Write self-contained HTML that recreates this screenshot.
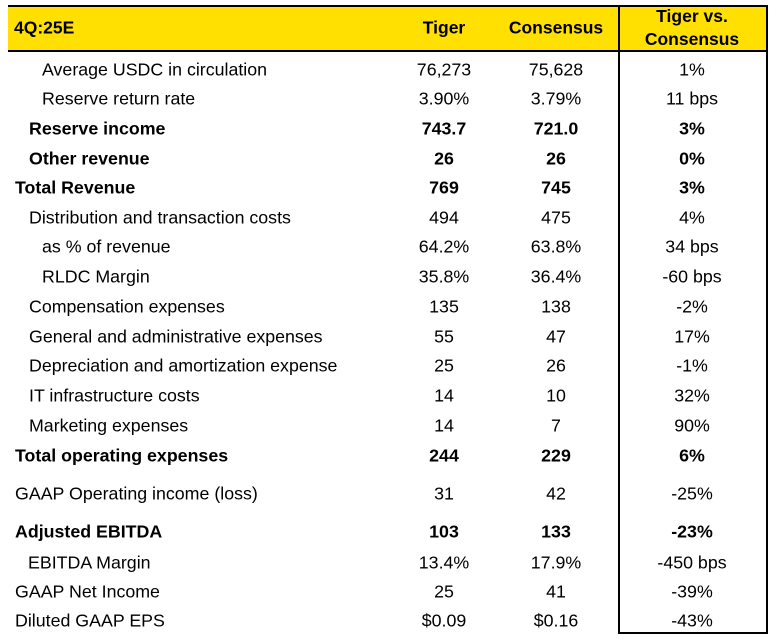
<!DOCTYPE html>
<html><head><meta charset="utf-8"><style>
body{margin:0;width:771px;height:642px;background:#fff;font-family:"Liberation Sans",Arial,sans-serif;color:#000;position:relative;overflow:hidden}
.hdr{position:absolute;left:8px;top:5px;width:759px;height:47px;background:#FFE000;border-top:2px solid #000;border-bottom:2px solid #000;box-sizing:border-box}
.box{position:absolute;left:618px;top:5px;width:150px;height:629px;border:2px solid #000;box-sizing:border-box}
.t{position:absolute;font-size:17.8px;white-space:nowrap;transform:translateY(-50%)}
.h{font-size:17.5px}
.c{transform:translate(-50%,-50%);text-align:center}
.b{font-weight:bold}
</style></head><body>
<div class="hdr"></div>
<div class="box"></div>
<div class="t b h" style="left:14px;top:28px">4Q:25E</div>
<div class="t b c h" style="left:444px;top:28px">Tiger</div>
<div class="t b c h" style="left:556px;top:28px">Consensus</div>
<div class="t b c h" style="left:692px;top:28px;line-height:23px">Tiger vs.<br>Consensus</div>
<div id="rows"></div>
<script>
const labels=["Average USDC in circulation","Reserve return rate","Reserve income","Other revenue","Total Revenue","Distribution and transaction costs","as % of revenue","RLDC Margin","Compensation expenses","General and administrative expenses","Depreciation and amortization expense","IT infrastructure costs","Marketing expenses","Total operating expenses","GAAP Operating income (loss)","Adjusted EBITDA","EBITDA Margin","GAAP Net Income","Diluted GAAP EPS"];
const tiger=["76,273","3.90%","743.7","26","769","494","64.2%","35.8%","135","55","25","14","14","244","31","103","13.4%","25","$0.09"];
const consensus=["75,628","3.79%","721.0","26","745","475","63.8%","36.4%","138","47","26","10","7","229","42","133","17.9%","41","$0.16"];
const diff=["1%","11 bps","3%","0%","3%","4%","34 bps","-60 bps","-2%","17%","-1%","32%","90%","6%","-25%","-23%","-450 bps","-39%","-43%"];
const ys=[70,99,129,159,188,218,247,277,307,337,366,396,426,456,494,532,563,592,621];
const indent=[42,42,29,29,15,29,42,42,29,29,29,29,29,15,15,15,28,15,15];
const bold=[0,0,1,1,1,0,0,0,0,0,0,0,0,1,0,1,0,0,0];
const root=document.getElementById('rows');
labels.forEach((l,i)=>{
  const mk=(txt,x,cls,name)=>{const d=document.createElement('div');d.className='t '+cls+(bold[i]?' b':'');d.style.left=x+'px';d.style.top=ys[i]+'px';d.textContent=txt;
    
    
    root.appendChild(d);};
  mk(l,indent[i],'','row-label');
  mk(tiger[i],444,'c','tiger-value');
  mk(consensus[i],556,'c','consensus-value');
  mk(diff[i],692,'c','difference-value');
});
</script>
</body></html>
